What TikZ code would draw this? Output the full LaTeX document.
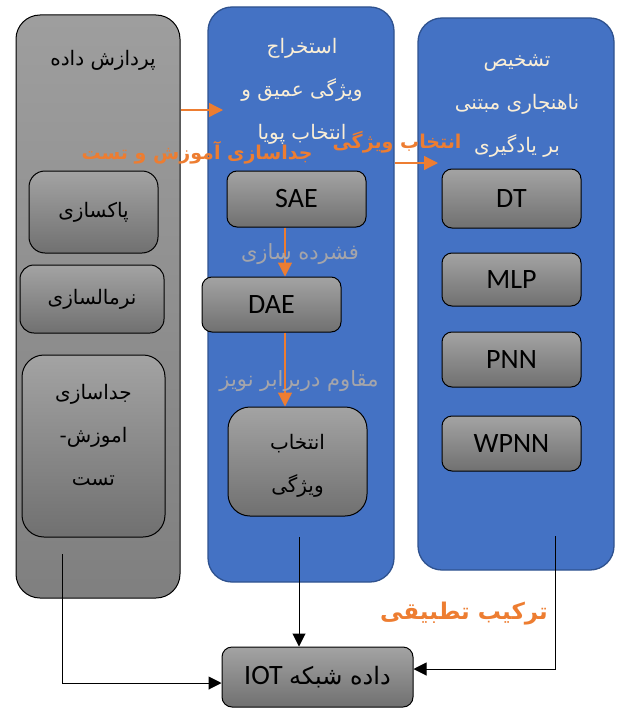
\documentclass[tikz,border=0pt]{standalone}
\usepackage{fontspec}
\setmainfont{Carlito}
\newfontfamily\fa[Script=Arabic]{DejaVu Sans}
\TeXXeTstate=1
\usetikzlibrary{arrows.meta}
\definecolor{panelblue}{RGB}{68,114,196}
\definecolor{panelline}{RGB}{47,82,143}
\definecolor{accent}{RGB}{237,125,49}
\definecolor{cream}{RGB}{250,238,214}
\definecolor{softgray}{RGB}{165,165,170}
\newcommand{\rl}[1]{{\fa\beginR#1\endR}}

\begin{document}
\begin{tikzpicture}[x=1pt,y=-1pt,
    panel/.style={draw=panelline, line width=1.3pt, fill=panelblue, rounded corners=24pt, inner sep=0pt},
    graypanel/.style={draw=black, line width=1pt, top color=black!38, bottom color=black!50, rounded corners=24pt, inner sep=0pt},
    unit/.style={draw=black, line width=1pt, top color=black!36, bottom color=black!56, rounded corners=10pt, inner sep=0pt, font=\fontsize{28}{30}\selectfont},
    head/.style={text=cream, align=center, font=\fontsize{20}{43}\selectfont},
    txt/.style={align=center, font=\fontsize{20}{43}\selectfont},
    note/.style={text=softgray, font=\fontsize{21}{24}\selectfont},
    tag/.style={text=accent, font=\bfseries\fontsize{19}{22}\selectfont},
    flow/.style={draw=accent, line width=1.3pt, -{Triangle[length=14pt,width=14pt]}},
    link/.style={draw=black, line width=1pt, -{Triangle[length=13pt,width=13pt]}}]
    \useasboundingbox (0,0) rectangle (616,709);

    % three stages
    \node[graypanel, minimum width=164pt, minimum height=583pt] (prep) at (98,306.5) {};
    \node[panel, minimum width=186pt, minimum height=575pt] (extract) at (301,294.5) {};
    \node[panel, minimum width=196pt, minimum height=552pt] (detect) at (516,294) {};

    \node[txt] (prephead) at (103,60) {\rl{پردازش داده}};
    \node[head] (extracthead) at (302,91) {\rl{استخراج}\\ \rl{ویژگی عمیق و}\\ \rl{انتخاب پویا}};
    \node[head] (detecthead) at (517,106) {\rl{تشخیص}\\ \rl{ناهنجاری مبتنی}\\ \rl{بر یادگیری}};

    % preprocessing steps
    \node[unit, rounded corners=16pt, minimum width=129pt, minimum height=82pt] (clean) at (93.5,212) {\rl{\fontsize{20}{22}\selectfont پاکسازی}};
    \node[unit, rounded corners=14pt, minimum width=144pt, minimum height=68pt] (norm) at (92,299) {\rl{\fontsize{20}{22}\selectfont نرمالسازی}};
    \node[unit, rounded corners=22pt, minimum width=143pt, minimum height=182pt] (split) at (93.5,446) {};
    \node[txt] (splittxt) at (93.5,435) {\rl{جداسازی}\\ \rl{اموزش-}\\ \rl{تست}};

    % autoencoders
    \node[unit, minimum width=139pt, minimum height=56pt] (sae) at (296.5,199) {SAE};
    \node[unit, minimum width=139pt, minimum height=55pt] (dae) at (271.5,304.5) {DAE};
    \node[unit, rounded corners=22pt, minimum width=139pt, minimum height=109pt] (select) at (297.5,461.5) {};
    \node[txt] (selecttxt) at (297.5,466) {\rl{انتخاب}\\ \rl{ویژگی}};

    % classifiers
    \foreach \n/\t/\yc/\h in {dt/DT/198.5/59, mlp/MLP/279.5/53, pnn/PNN/359.5/55, wpnn/WPNN/443.5/55}
        \node[unit, minimum width=139pt, minimum height=\h pt] (\n) at (511.5,\yc) {\t};

    \node[unit, minimum width=191pt, minimum height=60pt] (iot) at (317.5,677) {IOT \rl{\fontsize{24}{26}\selectfont داده شبکه}};

    % orange flow between stages
    \coordinate (spine) at (285,0);
    \coordinate (tipa) at (223,110);
    \coordinate (tipb) at (438,163);
    \draw[flow] (prep.east |- tipa) -- (tipa);
    \draw[flow] (extract.east |- tipb) -- (tipb);
    \draw[flow] (sae.south -| spine) -- (dae.north -| spine);
    \draw[flow] (dae.south -| spine) -- (select.north -| spine);
    \node[note] (squeeze) at (300,254) {\rl{فشرده سازی}};
    \node[note] (robust) at (299,381) {\rl{مقاوم دربرابر نویز}};

    % outputs into the network data
    \coordinate (outa) at (62,554);
    \coordinate (outb) at (299,537);
    \coordinate (outc) at (555,536);
    \draw[link] (outa) |- (iot.west |- 0,683);
    \draw[link] (outb) -- (outb |- iot.north);
    \draw[link] (outc) |- (iot.east |- 0,669);

    \node[tag] (tagsplit) at (197,153) {\rl{جداسازی آموزش و تست}};
    \node[tag] (tagselect) at (397,142) {\rl{انتخاب ویژگی}};
    \node[tag, font=\bfseries\fontsize{23}{26}\selectfont] (tagmix) at (464,614) {\rl{ترکیب تطبیقی}};
\end{tikzpicture}
\end{document}
